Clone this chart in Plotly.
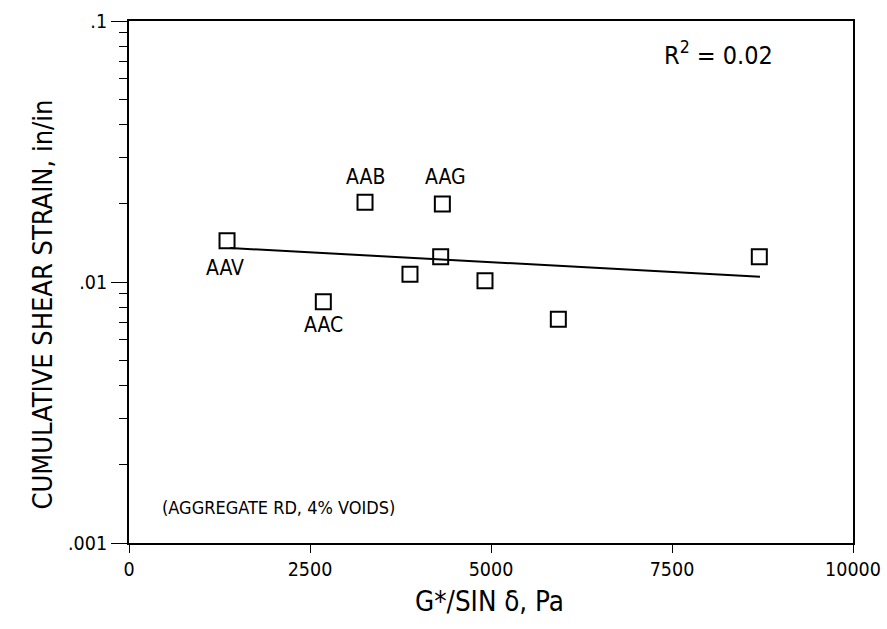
import math
import plotly.graph_objects as go

# Data
g_star = [1354, 3260, 4328, 4305, 3881, 4917, 2684, 5930, 8706]
strain = [0.0144, 0.0202, 0.0199, 0.0125, 0.0107, 0.0101, 0.0084, 0.0072, 0.0125]
names = ["AAV", "AAB", "AAG", "", "", "", "AAC", "", ""]

fit_x = [1395, 8715]
fit_y = [0.01350, 0.01047]

y_tickvals = [0.001, 0.01, 0.1]
y_ticktext = [".001", ".01", ".1"]
x_tickvals = [0, 2500, 5000, 7500, 10000]
x_ticktext = ["0", "2500", "5000", "7500", "10000"]

FONT = "DejaVu Sans Condensed, Liberation Sans Narrow, DejaVu Sans, sans-serif"

fig = go.Figure()
fig.add_trace(go.Scatter(x=fit_x, y=fit_y, mode="lines",
                         line=dict(color="black", width=2), showlegend=False))
fig.add_trace(go.Scatter(x=g_star, y=strain, mode="markers",
                         marker=dict(symbol="square-open", size=15, color="black",
                                     line=dict(width=2, color="black")),
                         showlegend=False))

# point labels (log axis: annotation y is log10 of value)
label_offsets = {"AAV": (-2, -27), "AAB": (0, 25), "AAG": (3, 27), "AAC": (0, -23)}
for x, y, n in zip(g_star, strain, names):
    if n:
        dx, dy = label_offsets[n]
        fig.add_annotation(x=x, y=math.log10(y), yref="y", xref="x", text=n,
                           showarrow=False, xshift=dx, yshift=dy,
                           font=dict(family=FONT, size=21, color="black"))

fig.add_annotation(xref="paper", yref="paper", x=0.892, y=0.973,
                   text="R<sup>2</sup> = 0.02",
                   showarrow=False, font=dict(family=FONT, size=25, color="black"))
fig.add_annotation(xref="paper", yref="paper", x=0.043, y=0.044, xanchor="left",
                   text="(AGGREGATE RD, 4% VOIDS)",
                   showarrow=False, font=dict(family=FONT, size=18, color="black"))
fig.add_annotation(xref="paper", yref="paper", x=-0.1436, y=0.456,
                   text="CUMULATIVE SHEAR STRAIN, in/in", textangle=-90,
                   showarrow=False, font=dict(family=FONT, size=27, color="black"))
fig.add_annotation(xref="paper", yref="paper", x=0.4986, y=-0.111, yanchor="middle",
                   text="G*/SIN δ, Pa",
                   showarrow=False, font=dict(family=FONT, size=27.5, color="black"))

minor_vals = [k * 10 ** e for e in (-3, -2) for k in range(2, 10)]

fig.update_layout(
    width=887, height=629,
    margin=dict(l=129, r=34, t=21, b=86, autoexpand=False),
    paper_bgcolor="white", plot_bgcolor="white",
    font=dict(family=FONT, size=19.5, color="black"),
    xaxis=dict(range=[0, 10000], tickvals=x_tickvals, ticktext=x_ticktext,
               ticks="outside", ticklen=8, tickwidth=1, tickcolor="black",
               ticklabeloverflow="allow", automargin=False,
               showline=True, linecolor="black", linewidth=2, mirror=True,
               showgrid=False, zeroline=False),
    yaxis=dict(type="log", range=[-3, -1], tickvals=y_tickvals, ticktext=y_ticktext,
               ticks="outside", ticklen=16, tickwidth=1, tickcolor="black",
               automargin=False,
               showline=True, linecolor="black", linewidth=2, mirror=True,
               showgrid=False, zeroline=False,
               minor=dict(tickvals=minor_vals, ticks="outside", ticklen=8,
                          tickwidth=1, tickcolor="black", showgrid=False)),
)

fig.write_html("out.html")
